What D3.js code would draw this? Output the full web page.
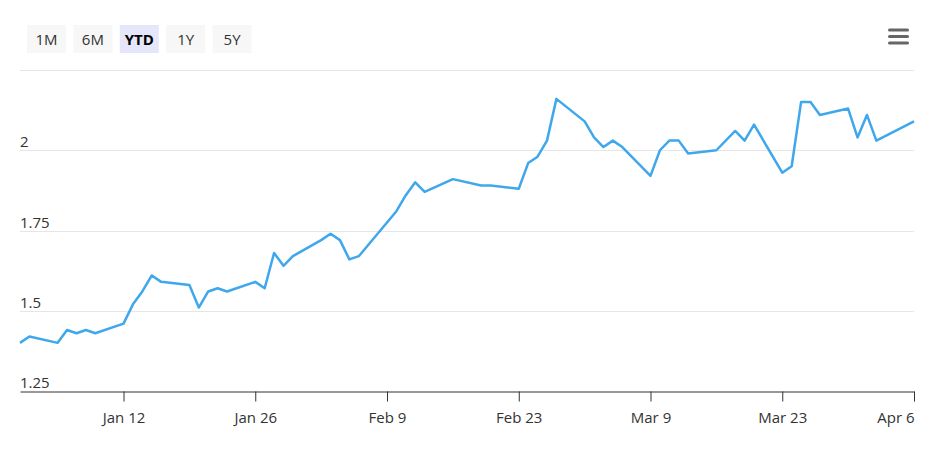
<!DOCTYPE html>
<html>
<head>
<meta charset="utf-8">
<script src="https://cdn.jsdelivr.net/npm/d3@7"></script>
<style>
  body { margin: 0; background: #fff; }
  text { font-family: "Open Sans", "Noto Sans", sans-serif; }
</style>
</head>
<body>
<div id="viz"></div>
<script>
// range buttons above the chart
const ranges = ["1M", "6M", "YTD", "1Y", "5Y"];
const activeRange = "YTD";

// daily closes, 2015 YTD
const dates = [
  "2015-01-01", "2015-01-02", "2015-01-05", "2015-01-06", "2015-01-07", "2015-01-08", "2015-01-09",
  "2015-01-12", "2015-01-13", "2015-01-14", "2015-01-15", "2015-01-16",
  "2015-01-19", "2015-01-20", "2015-01-21", "2015-01-22", "2015-01-23",
  "2015-01-26", "2015-01-27", "2015-01-28", "2015-01-29", "2015-01-30",
  "2015-02-02", "2015-02-03", "2015-02-04", "2015-02-05", "2015-02-06",
  "2015-02-09", "2015-02-10", "2015-02-11", "2015-02-12", "2015-02-13",
  "2015-02-16", "2015-02-19", "2015-02-20",
  "2015-02-23", "2015-02-24", "2015-02-25", "2015-02-26", "2015-02-27",
  "2015-03-02", "2015-03-03", "2015-03-04", "2015-03-05", "2015-03-06",
  "2015-03-09", "2015-03-10", "2015-03-11", "2015-03-12", "2015-03-13",
  "2015-03-16", "2015-03-18", "2015-03-19", "2015-03-20",
  "2015-03-23", "2015-03-24", "2015-03-25", "2015-03-26", "2015-03-27",
  "2015-03-30", "2015-03-31", "2015-04-01", "2015-04-02",
  "2015-04-06"
];
const values = [
  1.40, 1.42, 1.40, 1.44, 1.43, 1.44, 1.43,
  1.46, 1.52, 1.56, 1.61, 1.59,
  1.58, 1.51, 1.56, 1.57, 1.56,
  1.59, 1.57, 1.68, 1.64, 1.67,
  1.72, 1.74, 1.72, 1.66, 1.67,
  1.775, 1.81, 1.86, 1.90, 1.87,
  1.91, 1.89, 1.89,
  1.88, 1.96, 1.98, 2.03, 2.16,
  2.09, 2.04, 2.01, 2.03, 2.01,
  1.92, 2.00, 2.03, 2.03, 1.99,
  2.00, 2.06, 2.03, 2.08,
  1.93, 1.95, 2.15, 2.15, 2.11,
  2.13, 2.04, 2.11, 2.03,
  2.09
];

const yTicks = [1.25, 1.5, 1.75, 2, 2.25];
const xTicks = ["2015-01-12", "2015-01-26", "2015-02-09", "2015-02-23", "2015-03-09", "2015-03-23", "2015-04-06"];

const width = 940;
const height = 465;
const parse = d3.timeParse("%Y-%m-%d");

const data = dates.map((d, i) => ({ date: parse(d), value: values[i] }));

const svg = d3.select("#viz")
  .append("svg")
  .attr("width", width)
  .attr("height", height);

const x = d3.scaleTime()
  .domain([parse("2015-01-01"), parse("2015-04-06")])
  .range([20, 914]);

const y = d3.scaleLinear()
  .domain([1.25, 2.25])
  .range([391, 70]);

// buttons
const btn = svg.append("g")
  .selectAll("g")
  .data(ranges)
  .enter().append("g")
  .attr("transform", (d, i) => `translate(${27 + i * 46.4},25)`);

btn.append("rect")
  .attr("width", 39)
  .attr("height", 28)
  .attr("fill", d => d === activeRange ? "#e6e6fb" : "#f7f7f7");

btn.append("text")
  .attr("x", 19.5)
  .attr("y", 19.5)
  .attr("text-anchor", "middle")
  .attr("font-size", 15)
  .attr("font-weight", d => d === activeRange ? "bold" : "normal")
  .attr("fill", d => d === activeRange ? "#000" : "#333")
  .text(d => d);

// menu icon
svg.append("g")
  .selectAll("rect")
  .data([0, 1, 2])
  .enter().append("rect")
  .attr("x", 888)
  .attr("y", d => 28.5 + d * 6.5)
  .attr("width", 21)
  .attr("height", 3)
  .attr("rx", 1.5)
  .attr("fill", "#666");

// gridlines + y labels
const grid = svg.append("g");
grid.selectAll("line")
  .data(yTicks.slice(1))
  .enter().append("line")
  .attr("x1", 20)
  .attr("x2", 914)
  .attr("y1", d => Math.round(y(d)) + 0.5)
  .attr("y2", d => Math.round(y(d)) + 0.5)
  .attr("stroke", "#e6e6e6");

grid.selectAll("text")
  .data(yTicks.slice(0, -1))
  .enter().append("text")
  .attr("x", 20)
  .attr("y", d => y(d) - 3)
  .attr("font-size", 15)
  .attr("fill", "#333")
  .text(d => d);

// x axis
const xAxis = svg.append("g")
  .attr("transform", `translate(0,${Math.round(y(1.25)) + 0.5})`)
  .call(d3.axisBottom(x)
    .tickValues(xTicks.map(parse))
    .tickSize(10)
    .tickSizeOuter(0)
    .tickFormat(d3.timeFormat("%b %-d")));

xAxis.select(".domain").attr("stroke", "#333");
xAxis.selectAll(".tick line").attr("stroke", "#333");
xAxis.selectAll(".tick text")
  .attr("font-family", "Open Sans, Noto Sans, sans-serif")
  .attr("font-size", 15)
  .attr("fill", "#333")
  .attr("y", 21)
  .attr("text-anchor", (d, i) => i === xTicks.length - 1 ? "end" : "middle");

// the line
const line = d3.line()
  .x(d => x(d.date))
  .y(d => y(d.value));

svg.append("path")
  .datum(data)
  .attr("d", line)
  .attr("fill", "none")
  .attr("stroke", "#3fa7eb")
  .attr("stroke-width", 2.5)
  .attr("stroke-linejoin", "round");
</script>
</body>
</html>
